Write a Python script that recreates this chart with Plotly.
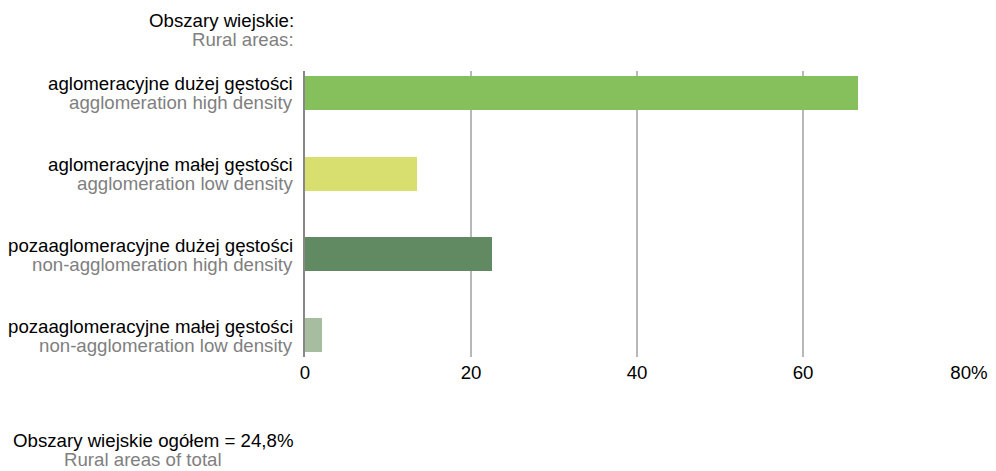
import plotly.graph_objects as go

categories_pl = ["aglomeracyjne dużej gęstości", "aglomeracyjne małej gęstości",
                 "pozaaglomeracyjne dużej gęstości", "pozaaglomeracyjne małej gęstości"]
categories_en = ["agglomeration high density", "agglomeration low density",
                 "non-agglomeration high density", "non-agglomeration low density"]
values = [66.6, 13.5, 22.5, 2.0]
colors = ["#86C05C", "#D8DF6E", "#618A63", "#A6BD9F"]
tick_vals = [0, 20, 40, 60, 80]
tick_text = ["0", "20", "40", "60", "80%"]

GRAY = "#808080"
FS = 18.67
positions = list(range(len(values)))

fig = go.Figure(go.Bar(
    x=values, y=positions, orientation="h",
    marker=dict(color=colors, line=dict(width=0)), width=0.42,
    hoverinfo="skip",
))

W, H = 996, 471
L, R, T, B = 305, 27, 71, 114
pw, ph = W - L - R, H - T - B


def px_x(px):
    return (px - L) / pw


def px_y(py):
    return (H - B - py) / ph


annotations = []
for pos, pl, en in zip(positions, categories_pl, categories_en):
    annotations.append(dict(text=pl, xref="paper", yref="y", x=0, y=pos,
                            xanchor="right", yanchor="middle", xshift=-10, yshift=9,
                            showarrow=False, font=dict(size=FS, color="black")))
    annotations.append(dict(text=en, xref="paper", yref="y", x=0, y=pos,
                            xanchor="right", yanchor="middle", xshift=-10, yshift=-10,
                            showarrow=False, font=dict(size=FS, color=GRAY)))

annotations += [
    dict(text="Obszary wiejskie:", xref="paper", yref="paper", x=px_x(296), y=px_y(20.5),
         xanchor="right", yanchor="middle", showarrow=False, font=dict(size=FS, color="black")),
    dict(text="Rural areas:", xref="paper", yref="paper", x=px_x(296), y=px_y(39),
         xanchor="right", yanchor="middle", showarrow=False, font=dict(size=FS, color=GRAY)),
    dict(text="Obszary wiejskie ogółem = 24,8%", xref="paper", yref="paper", x=px_x(10.5), y=px_y(440.5),
         xanchor="left", yanchor="middle", showarrow=False, font=dict(size=FS, color="black")),
    dict(text="Rural areas of total", xref="paper", yref="paper", x=px_x(62), y=px_y(459.5),
         xanchor="left", yanchor="middle", showarrow=False, font=dict(size=FS, color=GRAY)),
]

fig.update_layout(
    width=W, height=H,
    margin=dict(l=L, r=R, t=T, b=B, pad=0, autoexpand=False),
    paper_bgcolor="white", plot_bgcolor="white",
    font=dict(family="Liberation Sans, Arial, sans-serif", size=FS, color="black"),
    showlegend=False,
    bargap=0,
    xaxis=dict(range=[0, 80], tickvals=tick_vals, ticktext=tick_text,
               showgrid=True, gridcolor="#B8B8B8", gridwidth=2,
               zeroline=False, showline=False, ticks="", fixedrange=True,
               ticklabelstandoff=2, automargin=False),
    yaxis=dict(range=[3.27, -0.27], tickvals=positions, showticklabels=False,
               showgrid=False, zeroline=False, showline=True, linecolor="#888888",
               linewidth=2, ticks="", fixedrange=True, automargin=False),
    annotations=annotations,
)

fig.write_html("out.html", config={"displayModeBar": False},
               post_script="document.body.style.margin='0';document.body.style.overflow='hidden';")
